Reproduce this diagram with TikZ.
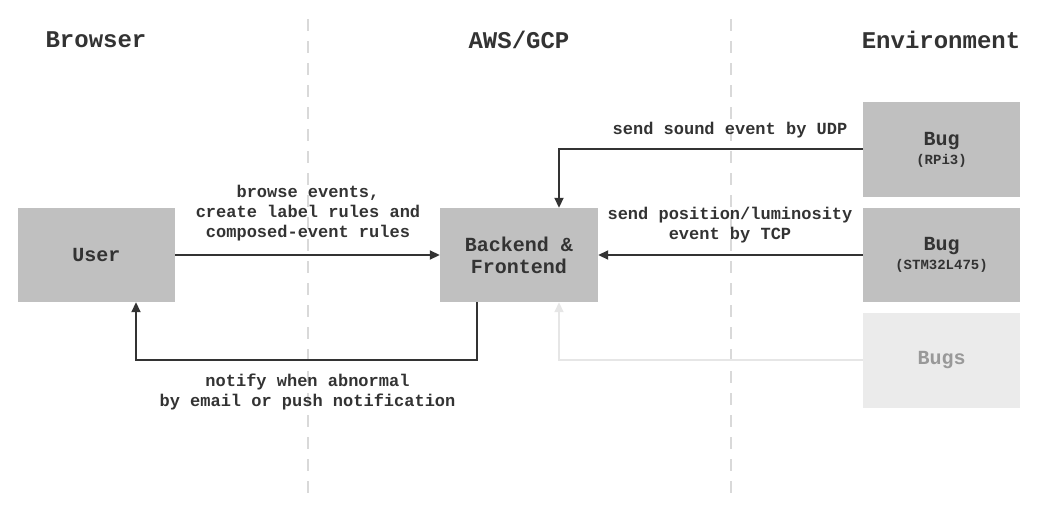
\documentclass[tikz,border=0pt]{standalone}
\usepackage{fontspec}
\setmainfont{Liberation Mono}
\usetikzlibrary{arrows.meta}
\definecolor{boxgray}{HTML}{C0C0C0}
\definecolor{boxlight}{HTML}{EBEBEB}
\definecolor{txt}{HTML}{333333}
\definecolor{txtlight}{HTML}{999999}
\definecolor{dashgray}{HTML}{D9D9D9}
\definecolor{arrlightcol}{HTML}{E6E6E6}
\tikzset{
  box/.style={fill=boxgray, draw=none, minimum width=157pt, minimum height=94pt, inner sep=0pt, align=center, text=txt, font=\bfseries\fontsize{20}{22}\selectfont},
  lightbox/.style={box, fill=boxlight, text=txtlight},
  heading/.style={text=txt, font=\bfseries\fontsize{24}{28}\selectfont, inner sep=0pt},
  lbl/.style={text=txt, font=\bfseries\fontsize{17}{20}\selectfont, align=center, inner sep=0pt},
  arr/.style={draw=txt, line width=1.8pt, -{Triangle[length=10pt,width=9pt]}},
  arrlight/.style={arr, draw=arrlightcol, -{Triangle[length=10pt,width=9pt,fill=arrlightcol]}},
  divider/.style={draw=dashgray, line width=2pt, dash pattern=on 12pt off 10pt},
  sub/.style={}
}
\begin{document}
\begin{tikzpicture}[x=1pt,y=-1pt]
\useasboundingbox (0,0) rectangle (1038,512);
% dividers
\coordinate (d1t) at (308,19); \coordinate (d1b) at (308,496);
\coordinate (d2t) at (731,19); \coordinate (d2b) at (731,496);
\draw[divider] (d1t) -- (d1b);
\draw[divider] (d2t) -- (d2b);
% headings
\node[heading] (h1) at (96,40) {Browser};
\node[heading] (h2) at (519,40) {AWS/GCP};
\node[heading] (h3) at (941,40) {Environment};
% boxes
\node[box] (user) at (96.5,255) {User};
\node[box, minimum width=158pt] (backend) at (519,255) {Backend \&\\Frontend};
\node[box, minimum height=95pt] (bug1) at (941.5,149.5) {Bug\\[-3pt]{\fontsize{14}{16}\selectfont (RPi3)}};
\node[box] (bug2) at (941.5,255) {Bug\\[-3pt]{\fontsize{14}{16}\selectfont (STM32L475)}};
\node[lightbox, minimum height=95pt] (bugs) at (941.5,360.5) {Bugs};
% connectors
\draw[arr] (user.east) -- (backend.west);
\coordinate (c1) at (477,360);
\coordinate (c2) at (136,360);
\draw[arr] (backend.south -| c1) -- (c1) -- (c2) -- (user.south -| c2);
\coordinate (c3) at (559,149);
\draw[arr] (bug1.west |- c3) -- (c3) -- (backend.north -| c3);
\draw[arr] (bug2.west) -- (backend.east);
\coordinate (c4) at (559,360);
\draw[arrlight] (bugs.west |- c4) -- (c4) -- (backend.south -| c4);
% labels
\node[lbl] (l1) at (308,213) {browse events,\\create label rules and\\composed-event rules};
\node[lbl] (l2) at (730,130) {send sound event by UDP};
\node[lbl] (l3) at (730,225) {send position/luminosity\\event by TCP};
\node[lbl] (l4) at (307.5,392) {notify when abnormal\\by email or push notification};
\end{tikzpicture}
\end{document}
